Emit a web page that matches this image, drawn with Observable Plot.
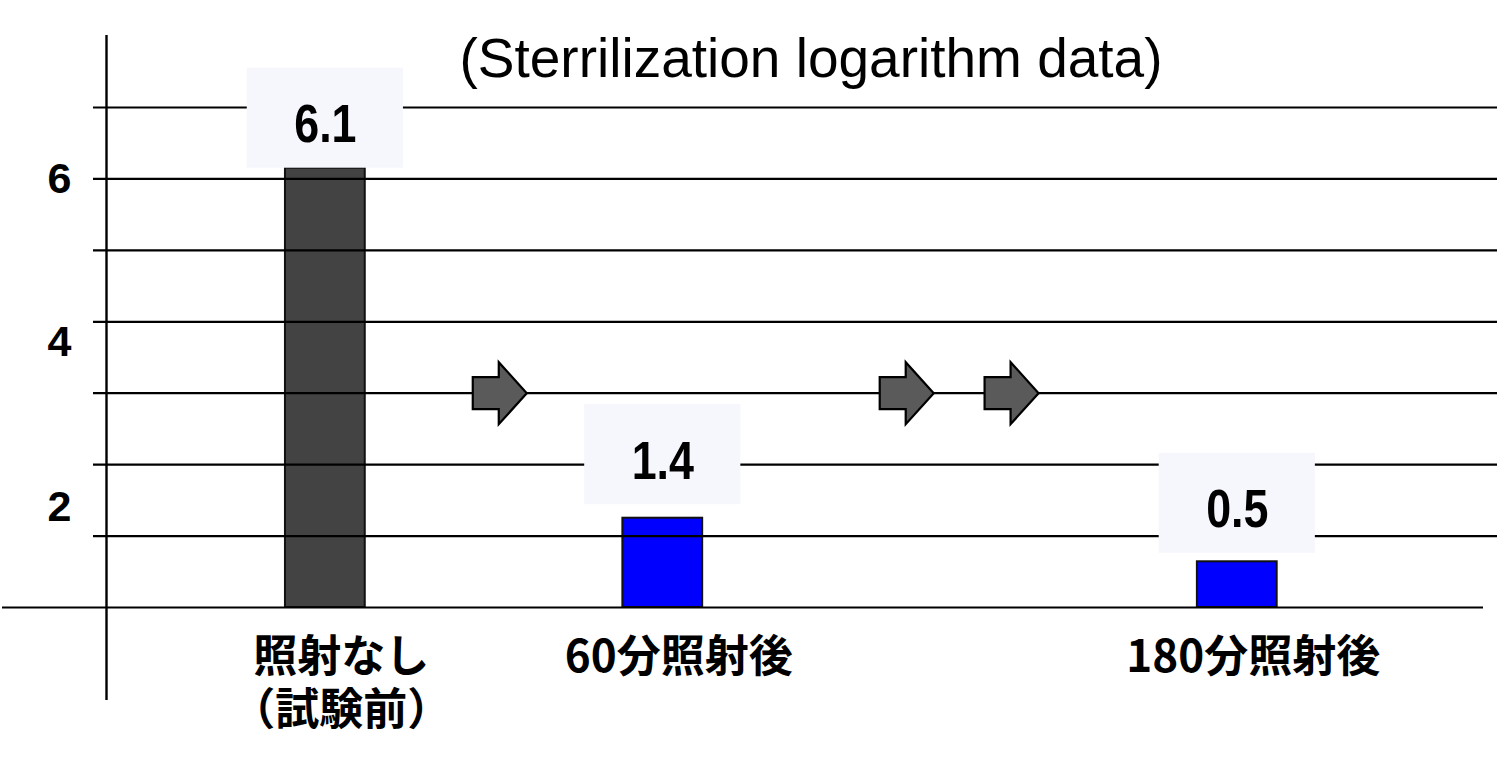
<!DOCTYPE html>
<html>
<head>
<meta charset="utf-8">
<script src="https://cdn.jsdelivr.net/npm/d3@7"></script>
<script src="https://cdn.jsdelivr.net/npm/@observablehq/plot@0.6"></script>
<style>
  html, body { margin: 0; padding: 0; background: #ffffff; }
  #chart svg { display: block; }
</style>
</head>
<body>
<div id="chart"></div>
<script>
// ---- data ----
const titleText = "(Sterrilization logarithm data)";
const categories = ["照射なし\n（試験前）", "60分照射後", "180分照射後"];
const categorySlot = [1.92, 4.88, 9.92];          // position of each group along the sequence
const barValues = [6.15, 1.25, 0.64];             // bar heights as drawn
const valueLabels = ["6.1", "1.4", "0.5"];        // numbers written above the bars
const labelBoxBase = [6.15, 1.44, 0.76];          // level where each value box sits
const barColors = ["#434343", "#0000ff", "#0000ff"];
const arrowSlot = [3.45, 7.02, 7.94];             // step arrows between groups
const arrowLevel = [3, 3, 3];
const gridValues = [1, 2, 3, 4, 5, 6, 7];
const yTickLabels = ["6", "4", "2"];
const yTickLabelAt = [6, 3.71, 1.4];

// ---- tables built from the arrays ----
const bars = categories.map((c, i) => ({
  cat: c, slot: categorySlot[i], value: barValues[i], label: valueLabels[i],
  base: labelBoxBase[i], color: barColors[i]
}));
const arrows = arrowSlot.map((s, i) => ({slot: s, level: arrowLevel[i]}));
const yLabels = yTickLabels.map((t, i) => ({text: t, at: yTickLabelAt[i]}));

const BAR_HALF = 0.35;     // half bar width (x units)
const BOX_HALF = 0.685;    // half label-box width (x units)
const BOX_H = 1.4;         // label-box height (y units)

const arrowSymbol = {
  draw(ctx) {
    ctx.moveTo(-27, -16);
    ctx.lineTo(-1, -16);
    ctx.lineTo(-1, -31);
    ctx.lineTo(27, 0);
    ctx.lineTo(-1, 31);
    ctx.lineTo(-1, 16);
    ctx.lineTo(-27, 16);
    ctx.closePath();
  }
};

const sans = "'Liberation Sans', Arial, sans-serif";
const cjk = "'Noto Sans CJK JP', 'Noto Sans', sans-serif";

const chart = Plot.plot({
  width: 1503,
  height: 760,
  marginLeft: 106,
  marginRight: 20,
  marginTop: 107,
  marginBottom: 153,
  x: {type: "linear", domain: [0, 12.08], axis: null},
  y: {type: "linear", domain: [0, 7], axis: null},
  style: {background: "#ffffff", fontFamily: sans, color: "#000"},
  marks: [
    Plot.rectY(bars, {
      x1: d => d.slot - BAR_HALF, x2: d => d.slot + BAR_HALF,
      y: "value", fill: "color", stroke: "#111", strokeWidth: 2
    }),
    Plot.ruleY(gridValues, {stroke: "#000", strokeWidth: 2.2, insetLeft: -13, insetRight: -14}),
    Plot.ruleY([0], {stroke: "#000", strokeWidth: 2.2, insetLeft: -104}),
    Plot.ruleX([0], {stroke: "#000", strokeWidth: 2.4, insetTop: -72, insetBottom: -93}),
    Plot.rect(bars, {
      x1: d => d.slot - BOX_HALF, x2: d => d.slot + BOX_HALF,
      y1: "base", y2: d => d.base + BOX_H, fill: "#f6f6fd"
    }),
    Plot.text(bars, {
      x: "slot", y: d => d.base + BOX_H / 2, text: "label",
      fontFamily: sans, fontWeight: "bold", fontSize: 54, fill: "#000",
      lineAnchor: "middle", dy: 7
    }),
    Plot.dot(arrows, {
      x: "slot", y: "level", symbol: arrowSymbol, r: 10,
      fill: "#5a5a5a", stroke: "#000", strokeWidth: 2.2
    }),
    Plot.text(bars, {
      x: "slot", y: 0, text: "cat",
      fontFamily: cjk, fontWeight: "bold", fontSize: 44, fill: "#000",
      lineAnchor: "top", lineHeight: 1.2, dy: 27, dx: 16
    }),
    Plot.text(yLabels, {
      y: "at", text: "text", frameAnchor: "left", dx: -47, textAnchor: "middle",
      fontFamily: sans, fontWeight: "bold", fontSize: 43, fill: "#000",
      lineAnchor: "middle"
    }),
    Plot.text([titleText], {
      frameAnchor: "top", dy: -48, dx: 16, text: d => d,
      fontFamily: sans, fontSize: 55, fill: "#000",
      lineAnchor: "middle"
    })
  ]
});

document.getElementById("chart").append(chart);

// condense the value labels horizontally, like the narrow face in the reference
const labelSet = new Set(valueLabels);
d3.select(chart).selectAll("text").each(function () {
  if (labelSet.has(this.textContent)) {
    const len = this.getComputedTextLength();
    this.setAttribute("textLength", (len * 0.83).toFixed(1));
    this.setAttribute("lengthAdjust", "spacingAndGlyphs");
  }
});
</script>
</body>
</html>
